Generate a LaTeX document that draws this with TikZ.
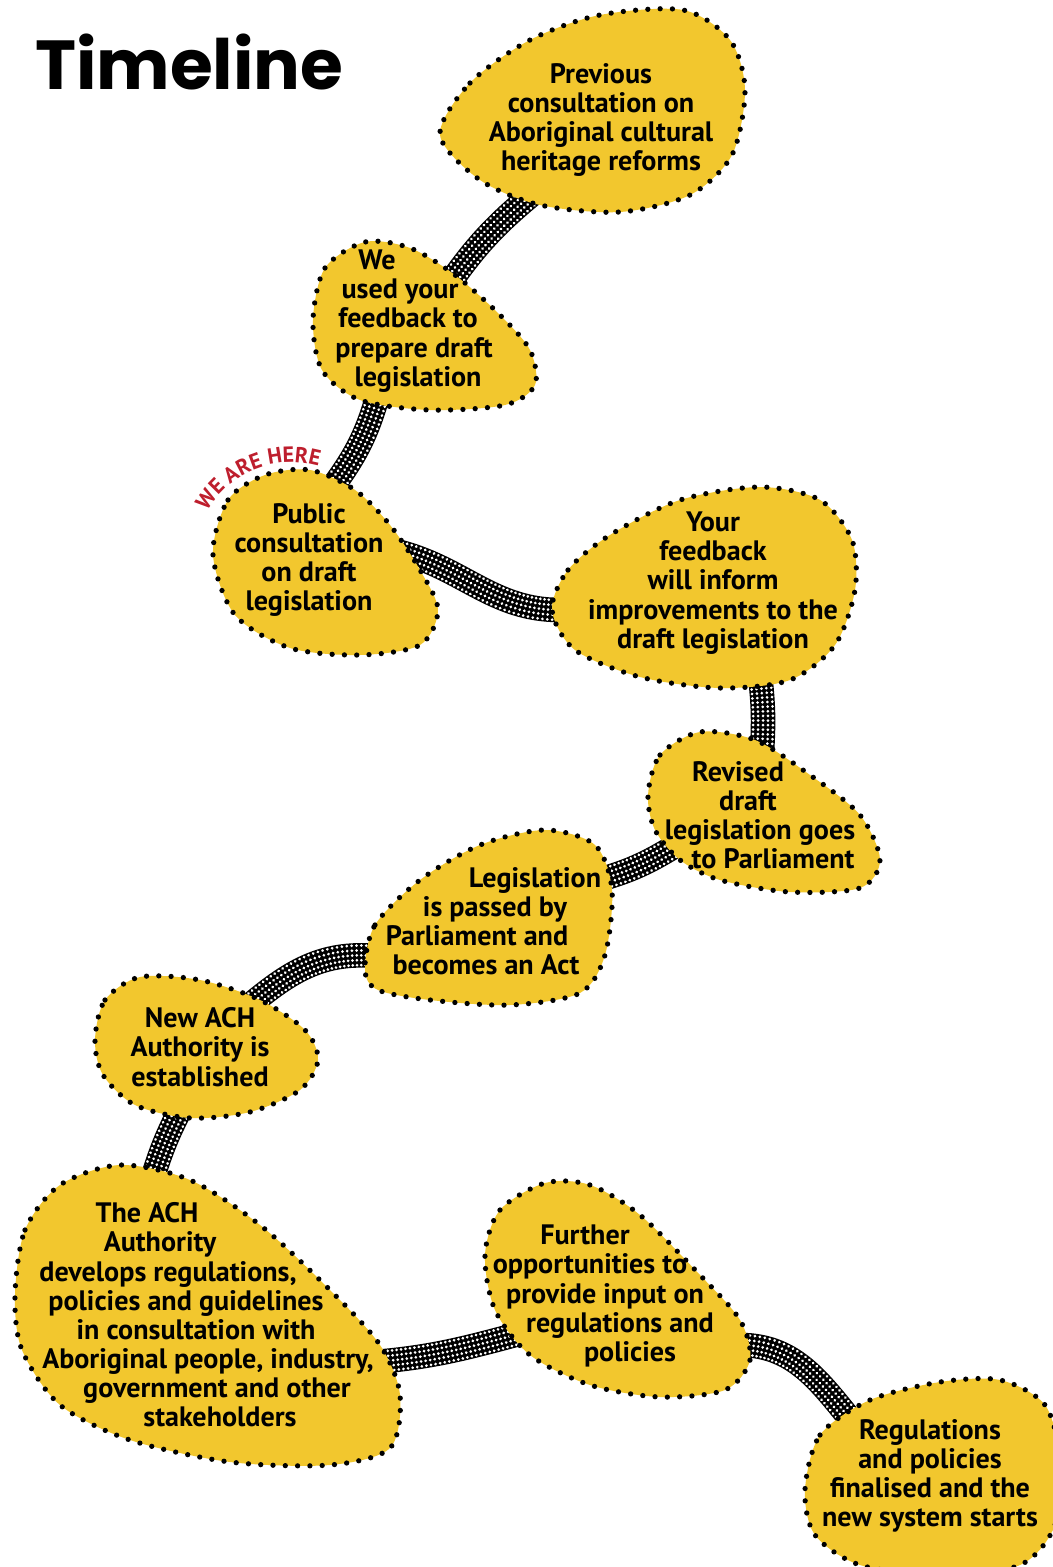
\documentclass[tikz,border=0pt]{standalone}
\usepackage{fontspec}
\setmainfont{PT Sans}
\newfontfamily\titlefont{Poppins}
\usetikzlibrary{calc}
\usetikzlibrary{backgrounds}
\usetikzlibrary{decorations.markings}
\usetikzlibrary{decorations.text}
\definecolor{blobyellow}{RGB}{242,199,46}
\definecolor{herered}{RGB}{190,30,45}
\newdimen\px \px=0.02cm
\newcommand\nudge[2]{\kern#1\px\relax#2\kern-#1\px\relax}

\begin{document}
\begin{tikzpicture}[x=0.02cm,y=-0.02cm,
	blob/.style={fill=blobyellow,draw=black,line width=3pt,dash pattern=on 0pt off 7pt,line cap=round},
	stepnode/.style={align=center,inner sep=0pt,font=\bfseries\fontsize{16}{16.6}\selectfont},
	rope/.style={line width=14pt,draw=black,postaction={decorate},
		decoration={markings,mark=between positions 0 and 1 step 2.6pt with
			{\foreach \r in {-5.6,-2.8,0,2.8,5.6} \fill[white] (0,\r pt) circle (0.85pt);}}}]

	\useasboundingbox (0,0) rectangle (1053,1567);

	\node[anchor=base west,font=\titlefont\bfseries\fontsize{39.5}{40}\selectfont] (title) at (29,90) {Timeline};

	% steps
	\draw[blob] plot[smooth cycle] coordinates {(440,135) (470,83) (530,40) (600,15) (683,10) (730,40) (745,90) (732,155) (690,195) (620,212) (540,205) (480,180)};
	\node[stepnode] (prev) at (601,120) {Previous\\consultation on\\Aboriginal cultural\\heritage reforms};

	\draw[blob] plot[smooth cycle] coordinates {(313,320) (325,268) (365,242) (410,248) (455,275) (500,315) (530,350) (535,385) (505,405) (430,410) (360,400) (322,370)};
	\node[stepnode] (used) at (403,321) {\nudge{-26}{We}\\\nudge{-3}{used your}\\\nudge{5}{feedback to}\\\nudge{11}{prepare draft}\\\nudge{15}{legislation}};

	\draw[blob] plot[smooth cycle] coordinates {(213,555) (228,500) (265,475) (310,470) (355,490) (390,525) (420,570) (438,610) (420,645) (360,655) (290,648) (235,615)};
	\node[stepnode] (pub) at (309,560) {Public\\consultation\\on draft\\legislation};

	\draw[blob] plot[smooth cycle] coordinates {(552,610) (568,570) (610,535) (680,500) (760,487) (820,500) (852,540) (855,590) (835,645) (790,680) (720,688) (640,677) (575,650)};
	\node[stepnode] (your) at (713,583) {Your\\feedback\\will inform\\improvements to the\\draft legislation};

	\draw[blob] plot[smooth cycle] coordinates {(648,795) (660,755) (700,732) (755,740) (810,775) (860,815) (880,860) (860,888) (790,892) (720,880) (680,860) (655,830)};
	\node[stepnode] (rev) at (755,815) {\nudge{-17}{Revised}\\\nudge{-7}{draft}\\\nudge{5}{legislation goes}\\\nudge{18}{to Parliament}};

	\draw[blob] plot[smooth cycle] coordinates {(365,970) (375,925) (420,880) (480,845) (545,830) (595,845) (612,890) (605,955) (580,993) (510,1005) (430,1000) (378,990)};
	\node[stepnode] (legis) at (498,921) {\nudge{37}{Legislation}\\\nudge{-3}{is passed by}\\\nudge{-21}{Parliament and}\\\nudge{-12}{becomes an Act}};

	\draw[blob] plot[smooth cycle] coordinates {(95,1040) (105,1000) (140,977) (200,980) (260,1000) (305,1030) (318,1060) (300,1090) (250,1112) (190,1118) (135,1105) (103,1075)};
	\node[stepnode] (newach) at (200,1047) {New ACH\\Authority is\\established};

	\draw[blob] plot[smooth cycle] coordinates {(15,1295) (25,1230) (60,1185) (120,1165) (190,1180) (260,1225) (330,1290) (380,1345) (400,1395) (390,1448) (330,1465) (230,1462) (130,1440) (60,1405) (22,1350)};
	\node[stepnode] (ach) at (188,1315) {\nudge{-41}{The ACH}\\\nudge{-28}{Authority}\\\nudge{-20}{develops regulations,}\\\nudge{-2}{policies and guidelines}\\\nudge{8}{in consultation with}\\\nudge{20}{Aboriginal people, industry,}\\\nudge{29}{government and other}\\\nudge{32}{stakeholders}};

	\draw[blob] plot[smooth cycle] coordinates {(485,1255) (500,1210) (545,1183) (590,1185) (640,1215) (700,1275) (740,1320) (750,1360) (725,1390) (660,1397) (590,1385) (530,1355) (495,1310)};
	\node[stepnode] (fur) at (606,1296) {\nudge{-21}{Further}\\\nudge{-16}{opportunities to}\\\nudge{-1}{provide input on}\\\nudge{14}{regulations and}\\\nudge{24}{policies}};

	\draw[blob] plot[smooth cycle] coordinates {(805,1490) (820,1435) (870,1400) (940,1382) (1000,1380) (1045,1405) (1060,1460) (1055,1525) (1020,1565) (940,1575) (860,1565) (815,1535)};
	\node[stepnode] (reg) at (930,1476) {Regulations\\and policies\\finalised and the\\new system starts};

	% we are here
	\path[decorate,decoration={text along path,text align=center,
		text={|\bfseries\fontsize{12.5}{12.5}\selectfont\color{herered}|WE ARE HERE}}]
		(200.9,523.7) arc[start angle=158,end angle=66,radius=1.96cm];

	% ropes between the steps
	\begin{scope}[on background layer]
		\fill[white] (0,0) rectangle (1053,1567);
		\draw[rope] ([shift={(-66,72)}]prev.center) to[bend right=8] ([shift={(42,-31)}]used.center);
		\draw[rope] ([shift={(-25,74)}]used.center) to[bend left=10] ([shift={(25,-75)}]pub.center);
		\draw[rope] ([shift={(91,-8)}]pub.center) to[out=-15,in=180] ([shift={(-153,27)}]your.center);
		\draw[rope] ([shift={(47,92)}]your.center) to[bend left=5] ([shift={(7,-64)}]rev.center);
		\draw[rope] ([shift={(-80,31)}]rev.center) to[bend left=8] ([shift={(97,-40)}]legis.center);
		\draw[rope] ([shift={(-123,35)}]legis.center) to[out=175,in=40] ([shift={(50,-42)}]newach.center);
		\draw[rope] ([shift={(-20,63)}]newach.center) to[bend right=5] ([shift={(-36,-135)}]ach.center);
		\draw[rope] ([shift={(187,47)}]ach.center) to[out=5,in=195] ([shift={(-91,39)}]fur.center);
		\draw[rope] ([shift={(134,49)}]fur.center) to[out=0,in=130] ([shift={(-70,-45)}]reg.center);
	\end{scope}
\end{tikzpicture}
\end{document}
